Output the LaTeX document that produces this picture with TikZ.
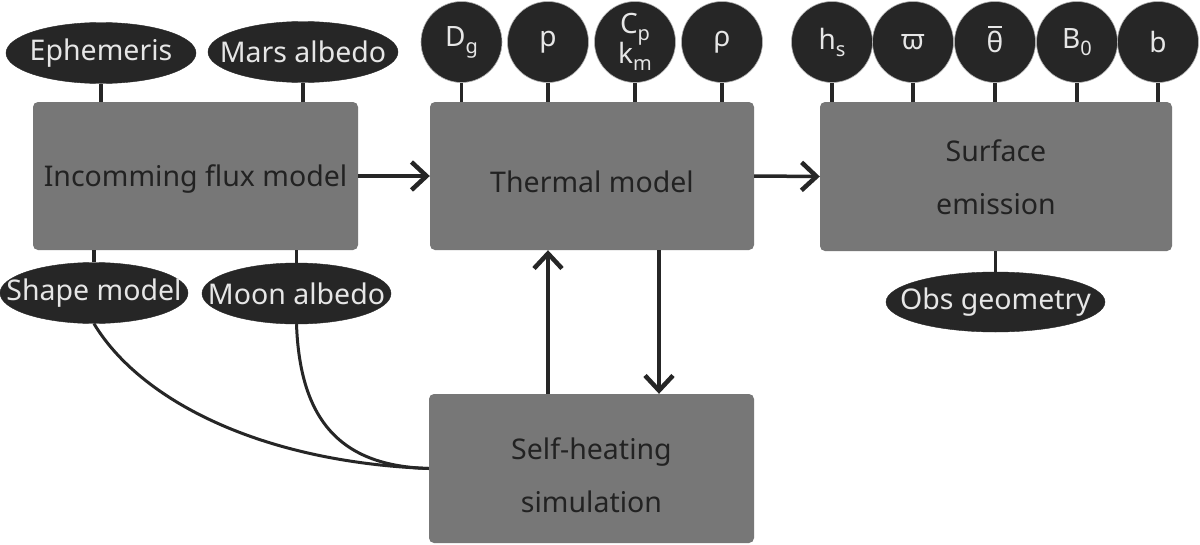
\documentclass[tikz,border=0pt]{standalone}
\usepackage{fontspec}
\setmainfont{Noto Sans}
\usetikzlibrary{shapes.geometric,arrows.meta}
\definecolor{boxgray}{HTML}{777777}
\definecolor{dark}{HTML}{262626}
\definecolor{lighttext}{HTML}{E6E6E6}
\definecolor{boxtext}{HTML}{222222}
\newcommand\mysub[1]{\raisebox{-0.25em}{\fontsize{20}{20}\selectfont #1}}
\begin{document}
\begin{tikzpicture}[x=1pt,y=-1pt,
 block/.style={fill=boxgray, rounded corners=5pt, draw=none, inner sep=0pt, text=boxtext, font=\fontsize{28.5}{53}\selectfont, align=center},
 param/.style={ellipse, fill=dark, draw=dark, text=lighttext, inner xsep=-40pt, inner ysep=-12pt, font=\fontsize{28.5}{32}\selectfont},
 var/.style={circle, fill=dark, draw=gray!60, line width=0.6pt, minimum size=81pt, inner sep=0pt, text=lighttext, font=\fontsize{28}{32}\selectfont, align=center},
 link/.style={draw=dark, line width=3.5pt},
 flow/.style={draw=dark, line width=3.5pt, -{Straight Barb[length=15pt,width=28pt,line width=4.5pt]}}
]
\useasboundingbox[fill=white] (0,0) rectangle (1200,544);

% blocks
\node[block, minimum width=325pt, minimum height=148pt] (flux) at (195.5,176) {\raisebox{-3pt}[\height][\depth]{Incomming flux model}};
\node[block, minimum width=324pt, minimum height=148pt] (thermal) at (592,176) {\raisebox{-6pt}[\height][\depth]{Thermal model}};
\node[block, minimum width=352pt, minimum height=149pt] (surface) at (996,176.5) {\rule{0pt}{23pt}Surface\\emission};
\node[block, minimum width=325pt, minimum height=149pt] (self) at (591.5,468.5) {\rule{0pt}{35pt}Self-heating\\simulation};

% parameter ellipses
\node[param, minimum width=190pt, minimum height=61pt] (eph) at (101,53) {Ephemeris};
\node[param, minimum width=190pt, minimum height=61pt] (mars) at (303,52) {Mars albedo};
\node[param, minimum width=188pt, minimum height=61pt] (shape) at (94,293) {Shape model};
\node[param, minimum width=189pt, minimum height=61pt] (moon) at (296.5,293.5) {Moon albedo};
\node[param, minimum width=219pt, minimum height=60pt] (obs) at (995.5,302) {Obs geometry};

% variable circles
\node[var] (dg) at (461.5,42) {D\mysub{g}};
\node[var] (p) at (548,42) {p};
\node[var] (cp) at (635,42) {C\mysub{p}\\[-4pt]k\mysub{m}};
\node[var] (rho) at (722,42) {ρ};
\node[var] (hs) at (832,42) {h\mysub{s}};
\node[var] (vpi) at (913,42) {ϖ};
\node[var] (theta) at (995,42) {θ};
\draw[lighttext, line width=2pt] ([xshift=-7pt,yshift=15pt]theta.center) -- ([xshift=7pt,yshift=15pt]theta.center);
\node[var] (b0) at (1077,42) {B\mysub{0}};
\node[var] (b) at (1158,42) {b};

% links
\foreach \n in {eph,mars} \draw[link] (\n.south) -- (\n.south |- flux.north);
\foreach \n in {shape,moon} \draw[link] (\n.north) -- (\n.north |- flux.south);
\foreach \n in {dg,p,cp,rho} \draw[link] (\n.south) -- (\n.south |- thermal.north);
\foreach \n in {hs,vpi,theta,b0,b} \draw[link] (\n.south) -- (\n.south |- surface.north);
\draw[link] (obs.north) -- (obs.north |- surface.south);

\draw[link, line width=3pt] (shape.south) .. controls (140,400) and (260,462) .. (self.west);
\draw[link, line width=3pt] (moon.south) .. controls (300,420) and (340,466) .. (self.west);

% flows
\draw[flow] (flux.east) -- (thermal.west);
\draw[flow] (thermal.east) -- (surface.west);
\draw[flow] (self.north -| 548,0) -- (thermal.south -| 548,0);
\draw[flow] (thermal.south -| 659,0) -- (self.north -| 659,0);
\end{tikzpicture}
\end{document}
